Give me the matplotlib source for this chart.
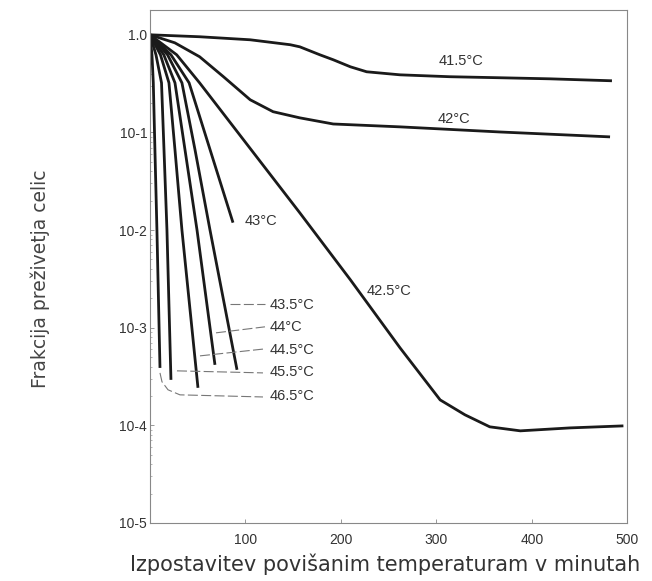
from __future__ import annotations

import matplotlib

matplotlib.use("Agg")
import matplotlib.pyplot as plt
from matplotlib.ticker import FixedLocator, LogLocator, NullFormatter


# survival curves: minutes vs surviving fraction
t_415 = [0, 52, 105, 147, 157, 178, 192, 210, 227, 262, 314, 367, 419, 484]
s_415 = [1.0, 0.955, 0.889, 0.791, 0.753, 0.624, 0.555, 0.470, 0.418, 0.389,
         0.372, 0.363, 0.354, 0.338]

t_420 = [0, 26, 52, 77, 105, 129, 157, 192, 262, 367, 482]
s_420 = [1.0, 0.828, 0.596, 0.372, 0.216, 0.163, 0.141, 0.122, 0.114, 0.101, 0.090]

t_425 = [0, 28, 52, 157, 210, 262, 304, 330, 356, 388, 440, 496]
s_425 = [1.0, 0.624, 0.322, 0.0150, 0.00309, 6.21e-4, 1.82e-4, 1.28e-4,
         9.64e-5, 8.77e-5, 9.4e-5, 9.86e-5]

t_430 = [0, 22, 41, 63, 87]
s_430 = [1.0, 0.624, 0.322, 0.0664, 0.0119]

t_435 = [0, 18.4, 33.5, 47.2, 62.9, 91.2]
s_435 = [1.0, 0.624, 0.322, 0.0664, 0.0100, 3.70e-4]

t_440 = [0, 14.5, 26.2, 36.7, 49.3, 68.1]
s_440 = [1.0, 0.624, 0.322, 0.0664, 0.0100, 4.16e-4]

t_445 = [0, 11.0, 19.9, 26.2, 33.5, 50.3]
s_445 = [1.0, 0.624, 0.322, 0.0664, 0.0100, 2.42e-4]

t_455 = [0, 6.3, 12.1, 14.7, 17.8, 22.0]
s_455 = [1.0, 0.624, 0.322, 0.0664, 0.0100, 2.92e-4]

t_465 = [0, 2.1, 3.5, 5.2, 7.3, 10.5]
s_465 = [1.0, 0.624, 0.322, 0.0664, 0.0100, 3.87e-4]

y_ticks = [1e-5, 1e-4, 1e-3, 1e-2, 1e-1, 1.0]
y_tick_labels = ["10-5", "10-4", "10-3", "10-2", "10-1", "1.0"]
x_ticks = [100, 200, 300, 400, 500]

# labels that sit right next to their curve
inline_labels = ["41.5°C", "42°C", "42.5°C", "43°C"]
inline_pos = [(302, 0.542), (301, 0.138), (227.5, 0.00238), (99.6, 0.0124)]

# labels joined to the steep curves by dashed leaders
leader_labels = ["43.5°C", "44°C", "44.5°C", "45.5°C", "46.5°C"]
leader_text_pos = [(125.8, 0.001713), (125.8, 0.00102), (125.8, 0.000593),
                   (125.8, 0.000352), (125.8, 0.000200)]
leader_x = [[83.9, 120.5], [69.2, 120.5], [52.4, 121.0], [28.3, 118.4],
            [10.5, 12.6, 18.9, 31.4, 118.4]]
leader_y = [[0.001754, 0.001754], [0.000885, 0.00102], [0.000514, 0.000607],
            [0.000361, 0.000344], [0.000344, 0.000279, 0.000231, 0.000205, 0.000195]]


def main() -> None:
    fig = plt.figure(figsize=(6.52, 5.81), dpi=100)
    ax = fig.add_axes([0.230, 0.100, 0.732, 0.883])

    curves = [
        (t_415, s_415), (t_420, s_420), (t_425, s_425), (t_430, s_430),
        (t_435, s_435), (t_440, s_440), (t_445, s_445), (t_455, s_455),
        (t_465, s_465),
    ]
    for t, s in curves:
        ax.plot(t, s, color="#1a1a1a", lw=2.0, solid_capstyle="butt",
                solid_joinstyle="round")

    for xs, ys in zip(leader_x, leader_y):
        ax.plot(xs, ys, color="#777777", lw=0.8, dashes=(9, 3))

    text_kw = dict(fontsize=10.5, color="#333333", family="Liberation Sans",
                   va="center", ha="left")
    for label, (x, y) in zip(inline_labels, inline_pos):
        ax.text(x, y, label, **text_kw)
    for label, (x, y) in zip(leader_labels, leader_text_pos):
        ax.text(x, y, label, **text_kw)

    ax.set_yscale("log")
    ax.set_xlim(0, 500)
    ax.set_ylim(1e-5, 1.80)

    ax.yaxis.set_major_locator(FixedLocator(y_ticks))
    ax.set_yticklabels(y_tick_labels)
    ax.yaxis.set_minor_locator(LogLocator(base=10, subs=range(2, 10)))
    ax.yaxis.set_minor_formatter(NullFormatter())
    ax.set_xticks(x_ticks)
    ax.set_xticklabels([str(v) for v in x_ticks])

    for spine in ax.spines.values():
        spine.set_color("#888888")
        spine.set_linewidth(0.8)
    ax.tick_params(axis="both", which="major", direction="in", length=3,
                   width=0.6, color="#888888", labelsize=10,
                   labelcolor="#333333")
    ax.tick_params(axis="y", which="minor", direction="in", length=1.5,
                   width=0.5, color="#999999")
    ax.tick_params(axis="y", pad=2)
    ax.tick_params(axis="x", pad=7)
    for lab in ax.get_xticklabels() + ax.get_yticklabels():
        lab.set_family("Liberation Sans")

    fig.text(0.062, 0.52, "Frakcija preživetja celic", rotation=90,
             fontsize=13.5, color="#444444", ha="center", va="center",
             family="DejaVu Sans")
    fig.text(0.59, 0.028, "Izpostavitev povišanim temperaturam v minutah",
             fontsize=15, color="#333333", ha="center", va="center",
             family="DejaVu Sans")

    fig.savefig("out.png", dpi=100)
    plt.close(fig)


if __name__ == "__main__":
    main()
